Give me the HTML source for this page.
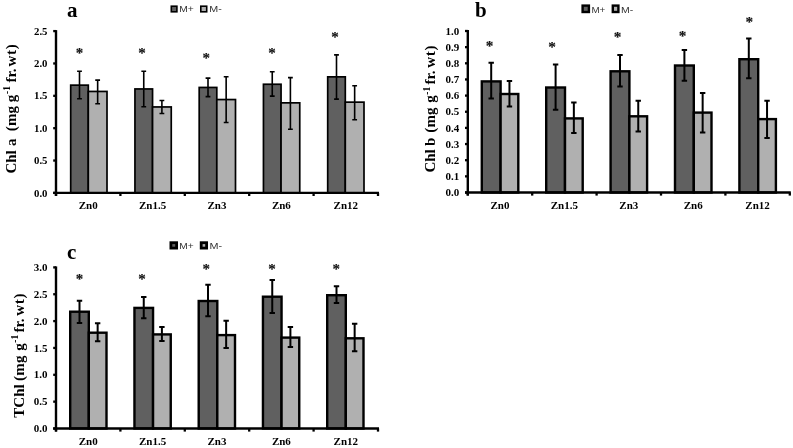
<!DOCTYPE html>
<html><head><meta charset="utf-8"><title>Chlorophyll</title>
<style>
html,body{margin:0;padding:0;background:#fff;}
body{width:793px;height:448px;overflow:hidden;}
svg{display:block;}
text{font-family:"Liberation Serif",serif;font-weight:bold;fill:#000;}
.tk{}
.ct{font-size:11px;}
.yl{font-size:15px;}
.lt{font-size:21px;}
.st{fill:#111;}
.lg{font-family:"Liberation Sans",sans-serif;font-weight:normal;font-size:9.5px;fill:#333;}
</style></head><body>
<svg width="793" height="448" viewBox="0 0 793 448">
<rect width="793" height="448" fill="#fff"/>
<rect x="70.70" y="85.15" width="17.60" height="107.75" fill="#606060" stroke="#000" stroke-width="1.7"/>
<rect x="88.30" y="91.45" width="18.70" height="101.45" fill="#b0b0b0" stroke="#000" stroke-width="1.7"/>
<path d="M79.50 70.40V99.60M77.10 71.20H81.90M77.10 98.80H81.90" stroke="#000" stroke-width="1.6" fill="none"/>
<path d="M97.65 79.30V104.60M95.25 80.10H100.05M95.25 103.80H100.05" stroke="#000" stroke-width="1.6" fill="none"/>
<rect x="134.95" y="88.95" width="17.60" height="103.95" fill="#606060" stroke="#000" stroke-width="1.7"/>
<rect x="152.55" y="106.95" width="18.70" height="85.95" fill="#b0b0b0" stroke="#000" stroke-width="1.7"/>
<path d="M143.75 70.40V107.50M141.35 71.20H146.15M141.35 106.70H146.15" stroke="#000" stroke-width="1.6" fill="none"/>
<path d="M161.90 99.70V114.30M159.50 100.50H164.30M159.50 113.50H164.30" stroke="#000" stroke-width="1.6" fill="none"/>
<rect x="199.20" y="87.45" width="17.60" height="105.45" fill="#606060" stroke="#000" stroke-width="1.7"/>
<rect x="216.80" y="99.55" width="18.70" height="93.35" fill="#b0b0b0" stroke="#000" stroke-width="1.7"/>
<path d="M208.00 77.30V97.40M205.60 78.10H210.40M205.60 96.60H210.40" stroke="#000" stroke-width="1.6" fill="none"/>
<path d="M226.15 76.00V123.30M223.75 76.80H228.55M223.75 122.50H228.55" stroke="#000" stroke-width="1.6" fill="none"/>
<rect x="263.45" y="84.25" width="17.60" height="108.65" fill="#606060" stroke="#000" stroke-width="1.7"/>
<rect x="281.05" y="102.85" width="18.70" height="90.05" fill="#b0b0b0" stroke="#000" stroke-width="1.7"/>
<path d="M272.25 71.00V96.90M269.85 71.80H274.65M269.85 96.10H274.65" stroke="#000" stroke-width="1.6" fill="none"/>
<path d="M290.40 76.80V130.10M288.00 77.60H292.80M288.00 129.30H292.80" stroke="#000" stroke-width="1.6" fill="none"/>
<rect x="327.70" y="76.85" width="17.60" height="116.05" fill="#606060" stroke="#000" stroke-width="1.7"/>
<rect x="345.30" y="102.15" width="18.70" height="90.75" fill="#b0b0b0" stroke="#000" stroke-width="1.7"/>
<path d="M336.50 54.10V99.90M334.10 54.90H338.90M334.10 99.10H338.90" stroke="#000" stroke-width="1.6" fill="none"/>
<path d="M354.65 84.90V120.50M352.25 85.70H357.05M352.25 119.70H357.05" stroke="#000" stroke-width="1.6" fill="none"/>
<path d="M56.00 30.10V195.90" stroke="#000" stroke-width="2.4" fill="none"/>
<path d="M53.20 192.90H379.00" stroke="#000" stroke-width="2.4" fill="none"/>
<path d="M53.20 192.90H56.00" stroke="#000" stroke-width="2.3"/>
<text x="47.50" y="196.50" text-anchor="end" class="tk" font-size="10.8">0.0</text>
<path d="M53.20 160.54H56.00" stroke="#000" stroke-width="2.3"/>
<text x="47.50" y="164.14" text-anchor="end" class="tk" font-size="10.8">0.5</text>
<path d="M53.20 128.18H56.00" stroke="#000" stroke-width="2.3"/>
<text x="47.50" y="131.78" text-anchor="end" class="tk" font-size="10.8">1.0</text>
<path d="M53.20 95.82H56.00" stroke="#000" stroke-width="2.3"/>
<text x="47.50" y="99.42" text-anchor="end" class="tk" font-size="10.8">1.5</text>
<path d="M53.20 63.46H56.00" stroke="#000" stroke-width="2.3"/>
<text x="47.50" y="67.06" text-anchor="end" class="tk" font-size="10.8">2.0</text>
<path d="M53.20 31.10H56.00" stroke="#000" stroke-width="2.3"/>
<text x="47.50" y="34.70" text-anchor="end" class="tk" font-size="10.8">2.5</text>
<path d="M56.00 192.90V196.00" stroke="#000" stroke-width="2.3"/>
<path d="M120.40 192.90V196.00" stroke="#000" stroke-width="2.3"/>
<path d="M184.80 192.90V196.00" stroke="#000" stroke-width="2.3"/>
<path d="M249.20 192.90V196.00" stroke="#000" stroke-width="2.3"/>
<path d="M313.60 192.90V196.00" stroke="#000" stroke-width="2.3"/>
<path d="M378.00 192.90V196.00" stroke="#000" stroke-width="2.3"/>
<text x="88.20" y="208.90" text-anchor="middle" class="ct">Zn0</text>
<text x="152.60" y="208.90" text-anchor="middle" class="ct">Zn1.5</text>
<text x="217.00" y="208.90" text-anchor="middle" class="ct">Zn3</text>
<text x="281.40" y="208.90" text-anchor="middle" class="ct">Zn6</text>
<text x="345.80" y="208.90" text-anchor="middle" class="ct">Zn12</text>
<text x="79.40" y="58.17" text-anchor="middle" class="st" font-size="15" stroke="#111" stroke-width="0.15">*</text>
<text x="142.00" y="58.17" text-anchor="middle" class="st" font-size="15" stroke="#111" stroke-width="0.15">*</text>
<text x="206.30" y="63.17" text-anchor="middle" class="st" font-size="15" stroke="#111" stroke-width="0.15">*</text>
<text x="272.00" y="58.17" text-anchor="middle" class="st" font-size="15" stroke="#111" stroke-width="0.15">*</text>
<text x="335.00" y="41.77" text-anchor="middle" class="st" font-size="15" stroke="#111" stroke-width="0.15">*</text>
<text transform="translate(15.80 161.90) rotate(-90)" text-anchor="middle" class="yl" letter-spacing="0">Chl</text>
<text transform="translate(15.80 142.20) rotate(-90)" text-anchor="middle" class="yl" letter-spacing="0">a</text>
<text transform="translate(15.80 118.50) rotate(-90)" text-anchor="middle" class="yl" letter-spacing="0.2">(mg</text>
<text transform="translate(15.80 98.45) rotate(-90)" text-anchor="middle" class="yl" letter-spacing="0">g</text>
<text transform="translate(10.30 90.00) rotate(-90)" text-anchor="middle" class="yl" style="font-size:9.5px">-1</text>
<text transform="translate(15.80 75.55) rotate(-90)" text-anchor="middle" class="yl" letter-spacing="0">fr.</text>
<text transform="translate(15.80 55.10) rotate(-90)" text-anchor="middle" class="yl" letter-spacing="0.7">wt)</text>
<text x="67.0" y="16.7" class="lt">a</text>
<rect x="171.30" y="6.20" width="5.60" height="5.60" fill="#606060" stroke="#000" stroke-width="1.6"/>
<rect x="200.80" y="6.20" width="5.90" height="5.60" fill="#b0b0b0" stroke="#000" stroke-width="1.6"/>
<text x="179.30" y="12.30" class="lg" textLength="14.60" lengthAdjust="spacingAndGlyphs">M+</text>
<text x="209.30" y="12.30" class="lg" textLength="12.50" lengthAdjust="spacingAndGlyphs">M-</text>
<rect x="481.80" y="81.40" width="18.80" height="111.10" fill="#606060" stroke="#000" stroke-width="2.4"/>
<rect x="500.60" y="94.00" width="17.70" height="98.50" fill="#b0b0b0" stroke="#000" stroke-width="2.4"/>
<path d="M491.20 61.80V99.50M488.50 62.80H493.90M488.50 98.50H493.90" stroke="#000" stroke-width="2.0" fill="none"/>
<path d="M509.45 80.00V107.40M506.75 81.00H512.15M506.75 106.40H512.15" stroke="#000" stroke-width="2.0" fill="none"/>
<rect x="546.20" y="87.50" width="18.80" height="105.00" fill="#606060" stroke="#000" stroke-width="2.4"/>
<rect x="565.00" y="118.40" width="17.70" height="74.10" fill="#b0b0b0" stroke="#000" stroke-width="2.4"/>
<path d="M555.60 63.60V110.70M552.90 64.60H558.30M552.90 109.70H558.30" stroke="#000" stroke-width="2.0" fill="none"/>
<path d="M573.85 101.60V133.90M571.15 102.60H576.55M571.15 132.90H576.55" stroke="#000" stroke-width="2.0" fill="none"/>
<rect x="610.60" y="71.30" width="18.80" height="121.20" fill="#606060" stroke="#000" stroke-width="2.4"/>
<rect x="629.40" y="116.30" width="17.70" height="76.20" fill="#b0b0b0" stroke="#000" stroke-width="2.4"/>
<path d="M620.00 54.00V87.60M617.30 55.00H622.70M617.30 86.60H622.70" stroke="#000" stroke-width="2.0" fill="none"/>
<path d="M638.25 99.70V132.40M635.55 100.70H640.95M635.55 131.40H640.95" stroke="#000" stroke-width="2.0" fill="none"/>
<rect x="675.00" y="65.50" width="18.80" height="127.00" fill="#606060" stroke="#000" stroke-width="2.4"/>
<rect x="693.80" y="112.60" width="17.70" height="79.90" fill="#b0b0b0" stroke="#000" stroke-width="2.4"/>
<path d="M684.40 49.00V81.80M681.70 50.00H687.10M681.70 80.80H687.10" stroke="#000" stroke-width="2.0" fill="none"/>
<path d="M702.65 92.10V133.40M699.95 93.10H705.35M699.95 132.40H705.35" stroke="#000" stroke-width="2.0" fill="none"/>
<rect x="739.40" y="59.20" width="18.80" height="133.30" fill="#606060" stroke="#000" stroke-width="2.4"/>
<rect x="758.20" y="119.10" width="17.70" height="73.40" fill="#b0b0b0" stroke="#000" stroke-width="2.4"/>
<path d="M748.80 37.60V79.30M746.10 38.60H751.50M746.10 78.30H751.50" stroke="#000" stroke-width="2.0" fill="none"/>
<path d="M767.05 99.70V138.90M764.35 100.70H769.75M764.35 137.90H769.75" stroke="#000" stroke-width="2.0" fill="none"/>
<path d="M467.80 30.00V195.50" stroke="#000" stroke-width="2.4" fill="none"/>
<path d="M465.00 192.50H790.80" stroke="#000" stroke-width="2.4" fill="none"/>
<path d="M465.00 192.50H467.80" stroke="#000" stroke-width="2.3"/>
<text x="459.30" y="196.10" text-anchor="end" class="tk" font-size="11">0.0</text>
<path d="M465.00 176.35H467.80" stroke="#000" stroke-width="2.3"/>
<text x="459.30" y="179.95" text-anchor="end" class="tk" font-size="11">0.1</text>
<path d="M465.00 160.20H467.80" stroke="#000" stroke-width="2.3"/>
<text x="459.30" y="163.80" text-anchor="end" class="tk" font-size="11">0.2</text>
<path d="M465.00 144.05H467.80" stroke="#000" stroke-width="2.3"/>
<text x="459.30" y="147.65" text-anchor="end" class="tk" font-size="11">0.3</text>
<path d="M465.00 127.90H467.80" stroke="#000" stroke-width="2.3"/>
<text x="459.30" y="131.50" text-anchor="end" class="tk" font-size="11">0.4</text>
<path d="M465.00 111.75H467.80" stroke="#000" stroke-width="2.3"/>
<text x="459.30" y="115.35" text-anchor="end" class="tk" font-size="11">0.5</text>
<path d="M465.00 95.60H467.80" stroke="#000" stroke-width="2.3"/>
<text x="459.30" y="99.20" text-anchor="end" class="tk" font-size="11">0.6</text>
<path d="M465.00 79.45H467.80" stroke="#000" stroke-width="2.3"/>
<text x="459.30" y="83.05" text-anchor="end" class="tk" font-size="11">0.7</text>
<path d="M465.00 63.30H467.80" stroke="#000" stroke-width="2.3"/>
<text x="459.30" y="66.90" text-anchor="end" class="tk" font-size="11">0.8</text>
<path d="M465.00 47.15H467.80" stroke="#000" stroke-width="2.3"/>
<text x="459.30" y="50.75" text-anchor="end" class="tk" font-size="11">0.9</text>
<path d="M465.00 31.00H467.80" stroke="#000" stroke-width="2.3"/>
<text x="459.30" y="34.60" text-anchor="end" class="tk" font-size="11">1.0</text>
<path d="M467.80 192.50V195.60" stroke="#000" stroke-width="2.3"/>
<path d="M532.20 192.50V195.60" stroke="#000" stroke-width="2.3"/>
<path d="M596.60 192.50V195.60" stroke="#000" stroke-width="2.3"/>
<path d="M661.00 192.50V195.60" stroke="#000" stroke-width="2.3"/>
<path d="M725.40 192.50V195.60" stroke="#000" stroke-width="2.3"/>
<path d="M789.80 192.50V195.60" stroke="#000" stroke-width="2.3"/>
<text x="500.00" y="208.50" text-anchor="middle" class="ct">Zn0</text>
<text x="564.40" y="208.50" text-anchor="middle" class="ct">Zn1.5</text>
<text x="628.80" y="208.50" text-anchor="middle" class="ct">Zn3</text>
<text x="693.20" y="208.50" text-anchor="middle" class="ct">Zn6</text>
<text x="757.60" y="208.50" text-anchor="middle" class="ct">Zn12</text>
<text x="489.50" y="51.30" text-anchor="middle" class="st" font-size="15.3" stroke="#111" stroke-width="0.15">*</text>
<text x="552.00" y="52.30" text-anchor="middle" class="st" font-size="15.3" stroke="#111" stroke-width="0.15">*</text>
<text x="617.70" y="42.40" text-anchor="middle" class="st" font-size="15.3" stroke="#111" stroke-width="0.15">*</text>
<text x="682.50" y="41.20" text-anchor="middle" class="st" font-size="15.3" stroke="#111" stroke-width="0.15">*</text>
<text x="749.40" y="27.40" text-anchor="middle" class="st" font-size="15.3" stroke="#111" stroke-width="0.15">*</text>
<text transform="translate(435.00 160.95) rotate(-90)" text-anchor="middle" class="yl" letter-spacing="0">Chl</text>
<text transform="translate(435.00 141.90) rotate(-90)" text-anchor="middle" class="yl" letter-spacing="0">b</text>
<text transform="translate(435.00 120.02) rotate(-90)" text-anchor="middle" class="yl" letter-spacing="0.2">(mg</text>
<text transform="translate(435.00 99.05) rotate(-90)" text-anchor="middle" class="yl" letter-spacing="0">g</text>
<text transform="translate(429.50 90.80) rotate(-90)" text-anchor="middle" class="yl" style="font-size:9.5px">-1</text>
<text transform="translate(435.00 77.55) rotate(-90)" text-anchor="middle" class="yl" letter-spacing="0">fr.</text>
<text transform="translate(435.00 56.35) rotate(-90)" text-anchor="middle" class="yl" letter-spacing="0.7">wt)</text>
<text x="475.0" y="16.85" class="lt">b</text>
<rect x="582.60" y="5.60" width="6.30" height="6.40" fill="#606060" stroke="#000" stroke-width="2.4"/>
<rect x="612.80" y="5.60" width="5.60" height="6.40" fill="#b0b0b0" stroke="#000" stroke-width="2.4"/>
<text x="591.40" y="12.50" class="lg" textLength="13.90" lengthAdjust="spacingAndGlyphs">M+</text>
<text x="621.00" y="12.50" class="lg" textLength="12.20" lengthAdjust="spacingAndGlyphs">M-</text>
<rect x="70.20" y="311.70" width="18.60" height="116.80" fill="#606060" stroke="#000" stroke-width="2.4"/>
<rect x="88.80" y="332.70" width="17.70" height="95.80" fill="#b0b0b0" stroke="#000" stroke-width="2.4"/>
<path d="M79.50 299.70V324.00M76.80 300.70H82.20M76.80 323.00H82.20" stroke="#000" stroke-width="2.0" fill="none"/>
<path d="M97.65 322.20V342.20M94.95 323.20H100.35M94.95 341.20H100.35" stroke="#000" stroke-width="2.0" fill="none"/>
<rect x="134.45" y="307.90" width="18.60" height="120.60" fill="#606060" stroke="#000" stroke-width="2.4"/>
<rect x="153.05" y="334.40" width="17.70" height="94.10" fill="#b0b0b0" stroke="#000" stroke-width="2.4"/>
<path d="M143.75 295.90V319.20M141.05 296.90H146.45M141.05 318.20H146.45" stroke="#000" stroke-width="2.0" fill="none"/>
<path d="M161.90 325.90V341.90M159.20 326.90H164.60M159.20 340.90H164.60" stroke="#000" stroke-width="2.0" fill="none"/>
<rect x="198.70" y="301.00" width="18.60" height="127.50" fill="#606060" stroke="#000" stroke-width="2.4"/>
<rect x="217.30" y="335.10" width="17.70" height="93.40" fill="#b0b0b0" stroke="#000" stroke-width="2.4"/>
<path d="M208.00 283.70V317.30M205.30 284.70H210.70M205.30 316.30H210.70" stroke="#000" stroke-width="2.0" fill="none"/>
<path d="M226.15 319.80V349.00M223.45 320.80H228.85M223.45 348.00H228.85" stroke="#000" stroke-width="2.0" fill="none"/>
<rect x="262.95" y="296.70" width="18.60" height="131.80" fill="#606060" stroke="#000" stroke-width="2.4"/>
<rect x="281.55" y="337.60" width="17.70" height="90.90" fill="#b0b0b0" stroke="#000" stroke-width="2.4"/>
<path d="M272.25 278.90V314.00M269.55 279.90H274.95M269.55 313.00H274.95" stroke="#000" stroke-width="2.0" fill="none"/>
<path d="M290.40 326.10V347.90M287.70 327.10H293.10M287.70 346.90H293.10" stroke="#000" stroke-width="2.0" fill="none"/>
<rect x="327.20" y="295.20" width="18.60" height="133.30" fill="#606060" stroke="#000" stroke-width="2.4"/>
<rect x="345.80" y="338.30" width="17.70" height="90.20" fill="#b0b0b0" stroke="#000" stroke-width="2.4"/>
<path d="M336.50 285.20V303.90M333.80 286.20H339.20M333.80 302.90H339.20" stroke="#000" stroke-width="2.0" fill="none"/>
<path d="M354.65 322.80V352.20M351.95 323.80H357.35M351.95 351.20H357.35" stroke="#000" stroke-width="2.0" fill="none"/>
<path d="M56.00 266.40V431.50" stroke="#000" stroke-width="2.4" fill="none"/>
<path d="M53.20 428.50H379.00" stroke="#000" stroke-width="2.4" fill="none"/>
<path d="M53.20 428.50H56.00" stroke="#000" stroke-width="2.3"/>
<text x="47.50" y="432.10" text-anchor="end" class="tk" font-size="11">0.0</text>
<path d="M53.20 401.65H56.00" stroke="#000" stroke-width="2.3"/>
<text x="47.50" y="405.25" text-anchor="end" class="tk" font-size="11">0.5</text>
<path d="M53.20 374.80H56.00" stroke="#000" stroke-width="2.3"/>
<text x="47.50" y="378.40" text-anchor="end" class="tk" font-size="11">1.0</text>
<path d="M53.20 347.95H56.00" stroke="#000" stroke-width="2.3"/>
<text x="47.50" y="351.55" text-anchor="end" class="tk" font-size="11">1.5</text>
<path d="M53.20 321.10H56.00" stroke="#000" stroke-width="2.3"/>
<text x="47.50" y="324.70" text-anchor="end" class="tk" font-size="11">2.0</text>
<path d="M53.20 294.25H56.00" stroke="#000" stroke-width="2.3"/>
<text x="47.50" y="297.85" text-anchor="end" class="tk" font-size="11">2.5</text>
<path d="M53.20 267.40H56.00" stroke="#000" stroke-width="2.3"/>
<text x="47.50" y="271.00" text-anchor="end" class="tk" font-size="11">3.0</text>
<path d="M56.00 428.50V431.60" stroke="#000" stroke-width="2.3"/>
<path d="M120.40 428.50V431.60" stroke="#000" stroke-width="2.3"/>
<path d="M184.80 428.50V431.60" stroke="#000" stroke-width="2.3"/>
<path d="M249.20 428.50V431.60" stroke="#000" stroke-width="2.3"/>
<path d="M313.60 428.50V431.60" stroke="#000" stroke-width="2.3"/>
<path d="M378.00 428.50V431.60" stroke="#000" stroke-width="2.3"/>
<text x="88.20" y="445.10" text-anchor="middle" class="ct">Zn0</text>
<text x="152.60" y="445.10" text-anchor="middle" class="ct">Zn1.5</text>
<text x="217.00" y="445.10" text-anchor="middle" class="ct">Zn3</text>
<text x="281.40" y="445.10" text-anchor="middle" class="ct">Zn6</text>
<text x="345.80" y="445.10" text-anchor="middle" class="ct">Zn12</text>
<text x="79.40" y="283.97" text-anchor="middle" class="st" font-size="15" stroke="#111" stroke-width="0.15">*</text>
<text x="142.00" y="283.97" text-anchor="middle" class="st" font-size="15" stroke="#111" stroke-width="0.15">*</text>
<text x="206.30" y="274.47" text-anchor="middle" class="st" font-size="15" stroke="#111" stroke-width="0.15">*</text>
<text x="272.10" y="274.47" text-anchor="middle" class="st" font-size="15" stroke="#111" stroke-width="0.15">*</text>
<text x="336.20" y="274.47" text-anchor="middle" class="st" font-size="15" stroke="#111" stroke-width="0.15">*</text>
<text transform="translate(23.90 401.00) rotate(-90)" text-anchor="middle" class="yl" letter-spacing="0">TChl</text>
<text transform="translate(23.90 368.15) rotate(-90)" text-anchor="middle" class="yl" letter-spacing="0.2">(mg</text>
<text transform="translate(23.90 347.05) rotate(-90)" text-anchor="middle" class="yl" letter-spacing="0">g</text>
<text transform="translate(18.40 338.80) rotate(-90)" text-anchor="middle" class="yl" style="font-size:9.5px">-1</text>
<text transform="translate(23.90 325.55) rotate(-90)" text-anchor="middle" class="yl" letter-spacing="0">fr.</text>
<text transform="translate(23.90 304.35) rotate(-90)" text-anchor="middle" class="yl" letter-spacing="0.7">wt)</text>
<text x="67.1" y="258.8" class="lt">c</text>
<rect x="170.90" y="242.70" width="5.70" height="5.40" fill="#606060" stroke="#000" stroke-width="2.8"/>
<rect x="201.20" y="242.70" width="5.40" height="5.40" fill="#b0b0b0" stroke="#000" stroke-width="2.8"/>
<text x="179.20" y="248.80" class="lg" textLength="14.40" lengthAdjust="spacingAndGlyphs">M+</text>
<text x="209.50" y="248.80" class="lg" textLength="12.60" lengthAdjust="spacingAndGlyphs">M-</text>
</svg>
</body></html>
